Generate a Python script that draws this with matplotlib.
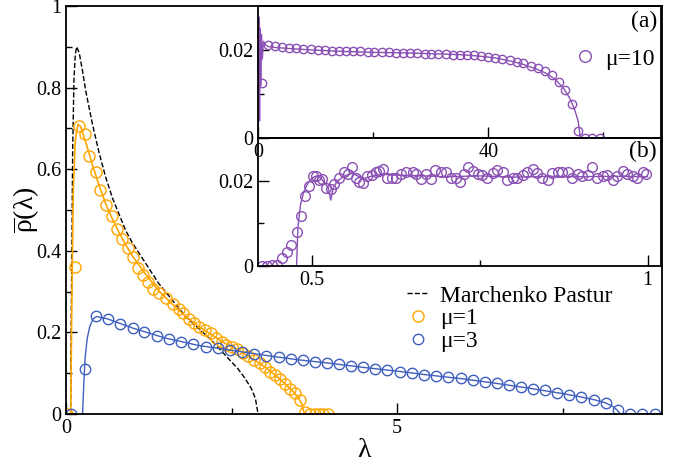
import matplotlib
matplotlib.use('Agg')
import matplotlib.pyplot as plt
from matplotlib.ticker import FuncFormatter

plt.rcParams['font.family'] = ['Liberation Serif', 'DejaVu Serif']
plt.rcParams['mathtext.fontset'] = 'custom'
plt.rcParams['mathtext.rm'] = 'Liberation Serif'
plt.rcParams['mathtext.it'] = 'Liberation Serif'

# --- main panel: Marchenko-Pastur (dashed) ---
mp_lam = [0.07, 0.08, 0.09, 0.10, 0.12, 0.14, 0.16, 0.20, 0.25, 0.30, 0.40, 0.50, 0.60,
          0.70, 0.80, 0.90, 1.00, 1.20, 1.40, 1.60, 1.80, 2.00, 2.20, 2.40, 2.60, 2.70,
          2.80, 2.86, 2.90]
mp_rho = [0.00, 0.25, 0.42, 0.64, 0.82, 0.88, 0.90, 0.885, 0.84, 0.79, 0.71, 0.64, 0.58,
          0.53, 0.49, 0.45, 0.42, 0.37, 0.32, 0.28, 0.24, 0.21, 0.18, 0.145, 0.11, 0.088,
          0.062, 0.038, 0.00]

# mu=1 (orange): theory line and simulation circles
mu1_line_lam = [0.07, 0.09, 0.11, 0.14, 0.18, 0.22, 0.30, 0.40, 0.50, 0.60, 0.70, 0.80, 0.90,
                1.00, 1.20, 1.40, 1.60, 1.80, 2.00, 2.20, 2.40, 2.60, 2.80, 3.00, 3.20, 3.40,
                3.50, 3.56, 3.60, 4.00]
mu1_line_rho = [0.00, 0.30, 0.55, 0.67, 0.71, 0.705, 0.665, 0.61, 0.56, 0.515, 0.478, 0.445,
                0.415, 0.388, 0.343, 0.302, 0.270, 0.240, 0.215, 0.194, 0.173, 0.157, 0.137,
                0.116, 0.090, 0.060, 0.042, 0.025, 0.00, 0.00]
mu1_lam = [0.01, 0.13, 0.20, 0.28, 0.35, 0.45, 0.52, 0.60, 0.70, 0.77, 0.85, 0.93, 1.01, 1.08,
           1.16, 1.24, 1.32, 1.41, 1.51, 1.61, 1.70, 1.76, 1.85, 1.93, 2.01, 2.10, 2.19, 2.27,
           2.35, 2.42, 2.50, 2.58, 2.67, 2.75, 2.84, 2.93, 3.01, 3.08, 3.16, 3.23, 3.31, 3.38,
           3.46, 3.53, 3.61, 3.69, 3.76, 3.82, 3.88, 3.95]
mu1_rho = [0.0, 0.36, 0.707, 0.686, 0.632, 0.594, 0.549, 0.512, 0.485, 0.453, 0.43, 0.406,
           0.386, 0.357, 0.341, 0.324, 0.306, 0.296, 0.285, 0.269, 0.257, 0.247, 0.234, 0.222,
           0.214, 0.206, 0.198, 0.186, 0.176, 0.170, 0.165, 0.160, 0.150, 0.142, 0.132, 0.126,
           0.116, 0.104, 0.096, 0.085, 0.073, 0.061, 0.051, 0.034, 0.006, 0.0, 0.0, 0.0, 0.0, 0.0]

# mu=3 (blue)
mu3_line_lam = [0.25, 0.27, 0.29, 0.32, 0.36, 0.41, 0.46, 0.63, 1.00, 1.50, 2.00, 2.50, 3.00,
                3.50, 4.00, 4.50, 5.00, 5.50, 6.00, 6.50, 7.00, 7.50, 7.80, 8.00, 8.15, 8.25,
                8.32, 8.37, 9.00]
mu3_line_rho = [0.00, 0.08, 0.14, 0.185, 0.215, 0.233, 0.239, 0.233, 0.211, 0.186, 0.168,
                0.156, 0.144, 0.133, 0.124, 0.114, 0.105, 0.095, 0.086, 0.075, 0.063, 0.050,
                0.041, 0.034, 0.027, 0.019, 0.010, 0.00, 0.00]
mu3_lam = [0.07, 0.28, 0.46, 0.63, 0.82, 1.01, 1.18, 1.37, 1.55, 1.74, 1.92, 2.11, 2.29, 2.48,
           2.66, 2.84, 3.02, 3.21, 3.39, 3.58, 3.76, 3.94, 4.12, 4.31, 4.49, 4.67, 4.85, 5.04,
           5.22, 5.41, 5.59, 5.77, 5.96, 6.14, 6.32, 6.51, 6.69, 6.87, 7.05, 7.24, 7.42, 7.60,
           7.78, 7.97, 8.15, 8.33, 8.52, 8.70, 8.89]
mu3_rho = [0.0, 0.11, 0.239, 0.233, 0.221, 0.21, 0.202, 0.192, 0.183, 0.177, 0.171, 0.165,
           0.161, 0.157, 0.152, 0.147, 0.143, 0.139, 0.135, 0.132, 0.128, 0.126, 0.122, 0.118,
           0.114, 0.111, 0.108, 0.104, 0.100, 0.096, 0.093, 0.090, 0.087, 0.083, 0.078, 0.075,
           0.070, 0.066, 0.062, 0.058, 0.052, 0.047, 0.042, 0.035, 0.027, 0.010, 0.0, 0.0, 0.0]

# --- inset (a): mu=10 ---
a_line_x = [0.0, 0.12, 0.22, 0.32, 0.42, 0.55, 0.7, 0.9, 1.2, 1.7, 3.0, 6.0, 10.0, 15.0, 20.0,
            25.0, 30.0, 35.0, 38.0, 41.0, 44.0, 46.0, 48.0, 50.0, 51.5, 53.0, 54.2, 55.0,
            55.6, 56.0, 60.0]
a_line_y = [0.0, 0.0275, 0.004, 0.025, 0.012, 0.0235, 0.018, 0.022, 0.0213, 0.0208, 0.0206,
            0.0203, 0.0200, 0.0197, 0.0195, 0.0194, 0.0192, 0.0190, 0.0187, 0.0183, 0.0175,
            0.0168, 0.0159, 0.0148, 0.0135, 0.0115, 0.0090, 0.0065, 0.004, 0.0, 0.0]
a_x = [0.6, 1.7, 2.9, 4.1, 5.4, 6.6, 7.8, 9.1, 10.3, 11.6, 12.8, 14.0, 15.3, 16.5, 17.7, 19.0,
       20.2, 21.5, 22.7, 23.9, 25.2, 26.4, 27.6, 28.9, 30.1, 31.3, 32.6, 33.8, 35.0, 36.3,
       37.5, 38.7, 40.0, 41.2, 42.4, 43.7, 44.9, 46.1, 47.4, 48.6, 49.8, 51.0, 52.2, 53.3,
       54.5, 55.65, 56.8, 58.1, 59.4]
a_y = [0.0126, 0.0211, 0.0209, 0.0208, 0.0206, 0.0204, 0.0203, 0.0202, 0.0200, 0.0200,
       0.0199, 0.0199, 0.0198, 0.0197, 0.0197, 0.0196, 0.0195, 0.0195, 0.0195, 0.0194,
       0.0194, 0.0193, 0.0193, 0.0192, 0.0192, 0.0192, 0.0191, 0.0190, 0.0189, 0.0189,
       0.0188, 0.0187, 0.0185, 0.0183, 0.0180, 0.0177, 0.0174, 0.0170, 0.0165, 0.0159,
       0.0153, 0.0143, 0.0128, 0.0109, 0.0079, 0.0017, 0.0, 0.0, 0.0]

# --- inset (b): zoom on the low edge ---
b_line_x = [0.477, 0.479, 0.483, 0.488, 0.494, 0.500, 0.507, 0.513, 0.519, 0.524, 0.528, 0.532,
            0.538, 0.545, 0.552, 0.560, 0.568, 0.578, 0.590, 0.605, 0.62, 0.65, 0.70, 0.75,
            0.80, 0.85, 0.90, 0.95, 1.00]
b_line_y = [0.0, 0.009, 0.0145, 0.0175, 0.0195, 0.0207, 0.0212, 0.0207, 0.0195, 0.0185, 0.0155,
            0.0185, 0.0200, 0.0208, 0.0214, 0.0218, 0.0212, 0.0206, 0.0212, 0.0216, 0.0214,
            0.0213, 0.0210, 0.0212, 0.0209, 0.0211, 0.0210, 0.0211, 0.0210]
b_x = [0.425, 0.433, 0.441, 0.448, 0.456, 0.463, 0.469, 0.477, 0.483, 0.490, 0.496, 0.502,
       0.506, 0.510, 0.515, 0.521, 0.528, 0.533, 0.540, 0.547, 0.553, 0.560, 0.565, 0.570,
       0.576, 0.582, 0.589, 0.595, 0.600, 0.606, 0.612, 0.619, 0.625, 0.632, 0.640, 0.650,
       0.655, 0.662, 0.670, 0.677, 0.684, 0.692, 0.699, 0.707, 0.714, 0.720, 0.727, 0.733,
       0.740, 0.748, 0.754, 0.761, 0.769, 0.776, 0.784, 0.791, 0.799, 0.806, 0.814, 0.821,
       0.829, 0.836, 0.843, 0.851, 0.858, 0.866, 0.873, 0.881, 0.888, 0.896, 0.903, 0.911,
       0.918, 0.925, 0.933, 0.940, 0.948, 0.955, 0.963, 0.970, 0.978, 0.985, 0.993, 0.998]
b_y = [0.0, 0.0, 0.0002, 0.0003, 0.0018, 0.0032, 0.005, 0.008, 0.0117, 0.0164, 0.0188, 0.0212,
       0.0212, 0.0202, 0.0204, 0.0184, 0.0182, 0.0192, 0.0208, 0.0220, 0.0216, 0.0232, 0.0208,
       0.0198, 0.0195, 0.0212, 0.0214, 0.0220, 0.0224, 0.0228, 0.0208, 0.0207, 0.0207, 0.0216,
       0.0220, 0.0222, 0.0216, 0.0204, 0.0216, 0.0204, 0.0226, 0.0222, 0.0220, 0.0208, 0.0206,
       0.0198, 0.0216, 0.0232, 0.0224, 0.0216, 0.0214, 0.0208, 0.0218, 0.0226, 0.0220, 0.0202,
       0.0206, 0.0208, 0.0214, 0.0220, 0.0229, 0.0218, 0.0208, 0.0202, 0.0218, 0.0220, 0.0220,
       0.0222, 0.0208, 0.0216, 0.0212, 0.0214, 0.0232, 0.0208, 0.0212, 0.0214, 0.0202, 0.0212,
       0.0224, 0.0216, 0.0212, 0.0206, 0.0222, 0.0216]

orange = '#ffa500'
blue = '#3f5fbf'
purple = '#8a50b4'

fmt = FuncFormatter(lambda v, p: f'{v:g}')


def style_axes(a, size):
    a.tick_params(which='both', direction='in', top=False, right=False, labelsize=size)
    a.tick_params(which='major', length=8, width=1)
    a.tick_params(which='minor', length=4, width=1)
    for s in a.spines.values():
        s.set_linewidth(1.3)
    a.xaxis.set_major_formatter(fmt)
    a.yaxis.set_major_formatter(fmt)


fig = plt.figure(figsize=(6.77, 4.65), dpi=100)

# main plot
ax = fig.add_axes([0.0975, 0.1097, 0.8804, 0.8774])
ax.plot(mp_lam, mp_rho, '--', color='black', lw=1, label='Marchenko Pastur')
ax.plot(mu1_line_lam, mu1_line_rho, '-', color=orange, lw=1.2)
ax.plot(mu1_lam, mu1_rho, 'o', mfc='none', mec=orange, ms=8, mew=1, label='μ=1')
ax.plot(mu3_line_lam, mu3_line_rho, '-', color=blue, lw=1)
ax.plot(mu3_lam, mu3_rho, 'o', mfc='none', mec=blue, ms=7.5, mew=1, label='μ=3')
ax.set_xlim(0, 9)
ax.set_ylim(0, 1)
ax.set_xticks([0, 5])
ax.set_xticks([2.5, 7.5], minor=True)
ax.set_yticks([0, 0.2, 0.4, 0.6, 0.8, 1.0])
ax.set_yticks([0.1, 0.3, 0.5, 0.7, 0.9], minor=True)
style_axes(ax, 14.5)
ax.set_xlabel('λ', fontsize=20, labelpad=0)
ax.set_ylabel(r'$\overline{\mathrm{\rho}}\mathrm{(\lambda)}$', fontsize=20, labelpad=-4)
ax.legend(loc='upper left', bbox_to_anchor=(0.553, 0.345), frameon=False, fontsize=17,
          handlelength=0.9, handletextpad=0.5, labelspacing=0.05, borderpad=0)

# inset (b) first so that inset (a) tick labels sit on top of it
axb = fig.add_axes([0.3815, 0.428, 0.5948, 0.2742])
axb.plot(b_line_x, b_line_y, '-', color=purple, lw=1)
axb.plot(b_x, b_y, 'o', mfc='none', mec=purple, ms=7, mew=1)
axb.set_xlim(0.42, 1.02)
axb.set_ylim(0, 0.03)
axb.set_xticks([0.5, 1.0])
axb.set_xticks([0.75], minor=True)
axb.set_yticks([0, 0.02])
axb.set_yticks([0.01], minor=True)
style_axes(axb, 14.5)
axb.text(0.99, 0.9, '(b)', transform=axb.transAxes, ha='right', va='center', fontsize=17)

# inset (a)
axa = fig.add_axes([0.3815, 0.7022, 0.5948, 0.2849])
axa.patch.set_alpha(0)
axa.plot(a_line_x, a_line_y, '-', color=purple, lw=1)
axa.plot(a_x, a_y, 'o', mfc='none', mec=purple, ms=6, mew=1, label='μ=10')
axa.set_xlim(0, 70)
axa.set_ylim(0, 0.03)
axa.set_xticks([0, 40])
axa.set_xticks([20, 60], minor=True)
axa.set_yticks([0, 0.02])
axa.set_yticks([0.01], minor=True)
style_axes(axa, 14.5)
axa.text(0.99, 0.88, '(a)', transform=axa.transAxes, ha='right', va='center', fontsize=17)
axa.legend(loc='center left', bbox_to_anchor=(0.755, 0.6), frameon=False, fontsize=17,
           handlelength=0.9, handletextpad=0.4, borderpad=0, markerscale=1.4)

fig.savefig('out.png', dpi=100)
